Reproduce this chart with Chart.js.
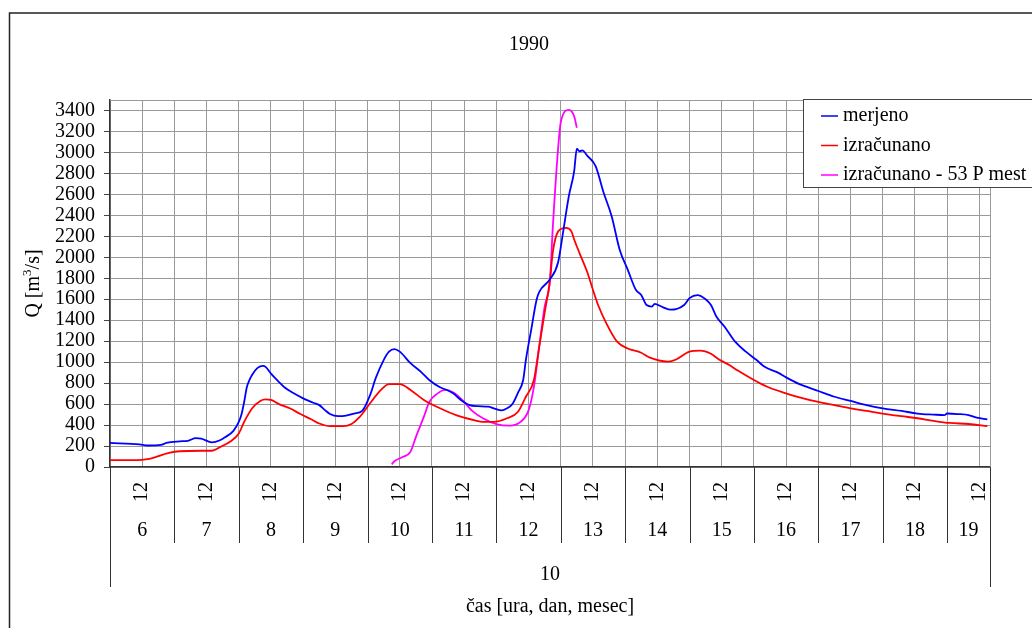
<!DOCTYPE html>
<html>
<head>
<meta charset="utf-8">
<script src="https://cdn.jsdelivr.net/npm/chart.js@4.4.1/dist/chart.umd.min.js"></script>
<style>
  body { margin: 0; background: #fff; }
  #wrap { width: 1032px; height: 628px; }
</style>
</head>
<body>
<div id="wrap"><canvas id="myChart" width="1032" height="628"></canvas></div>
<script>
// hours counted from 6.10. 00:00
const days = [6, 7, 8, 9, 10, 11, 12, 13, 14, 15, 16, 17, 18, 19];
const month = '10';
const hourLabel = '12';
const lastHour = 328;

const merjenoHours = [0, 11, 14, 19, 21, 26, 29, 32, 34, 38, 41, 43, 46, 48, 49, 50, 51, 52, 53, 55, 57, 58, 60, 63, 65, 68, 72, 76, 78, 80, 82, 85, 88, 91, 94, 97, 99, 102, 104, 106, 108, 112, 116, 119, 123, 126, 128, 131, 134, 137, 141, 143, 146, 148, 150, 152, 154, 155, 157, 159, 160, 164, 167, 169, 171, 173, 174, 175, 176, 178, 181, 184, 187, 190, 193, 196, 198, 200, 202, 203, 206, 209, 211, 214, 216, 219, 222, 224, 226, 229, 233, 237, 241, 244, 249, 252, 257, 264, 270, 276, 282, 288, 295, 301, 307, 311, 312, 316, 320, 323, 327];
const merjeno = [230, 215, 205, 210, 230, 245, 250, 275, 270, 235, 255, 285, 345, 430, 500, 620, 760, 830, 880, 945, 965, 955, 890, 810, 760, 710, 655, 610, 590, 545, 505, 485, 490, 510, 535, 690, 845, 1020, 1100, 1125, 1100, 990, 905, 830, 760, 730, 700, 635, 590, 580, 575, 560, 540, 560, 600, 705, 830, 1020, 1310, 1595, 1670, 1790, 1950, 2260, 2580, 2820, 3035, 3010, 3020, 2965, 2870, 2615, 2390, 2070, 1880, 1690, 1640, 1545, 1530, 1555, 1525, 1500, 1505, 1545, 1610, 1640, 1600, 1545, 1435, 1340, 1195, 1100, 1020, 955, 900, 855, 790, 725, 670, 630, 590, 560, 535, 510, 500, 495, 510, 505, 495, 470, 455];

const izracunanoHours = [0, 10, 14, 17, 20, 22, 26, 34, 38, 41, 45, 48, 50, 53, 56, 58, 60, 63, 67, 71, 75, 78, 82, 87, 90, 93, 97, 101, 104, 108, 112, 117, 123, 129, 136, 139, 143, 148, 152, 155, 158, 160, 162, 164, 165, 167, 170, 172, 173, 175, 178, 180, 182, 185, 189, 193, 198, 201, 208, 211, 216, 220, 224, 227, 231, 234, 240, 245, 251, 257, 264, 270, 276, 282, 288, 295, 301, 307, 313, 320, 327];
const izracunano = [65, 65, 75, 95, 120, 135, 150, 155, 155, 190, 245, 320, 430, 560, 630, 645, 640, 600, 560, 505, 455, 415, 390, 390, 410, 475, 610, 735, 790, 790, 735, 640, 560, 495, 445, 430, 430, 465, 525, 670, 830, 1150, 1470, 1785, 2040, 2245, 2280, 2245, 2170, 2040, 1850, 1690, 1540, 1370, 1195, 1130, 1090, 1045, 1005, 1025, 1100, 1110, 1080, 1025, 970, 920, 830, 765, 710, 665, 620, 590, 560, 535, 510, 485, 465, 440, 420, 410, 390];

const mest53Hours = [105, 106, 109, 112, 114, 117, 119, 122, 125, 128, 132, 135, 139, 144, 149, 153, 156, 158, 160, 162, 164, 165, 167, 168, 171, 173, 174];
const mest53 = [25, 55, 95, 145, 285, 480, 620, 700, 735, 710, 620, 535, 465, 410, 395, 430, 540, 765, 1150, 1530, 1785, 2265, 3030, 3285, 3405, 3345, 3235];

const FONT = '"Liberation Serif", "Times New Roman", serif';

function pairs(hours, values) {
    return hours.map((h, i) => ({ x: h, y: values[i] }));
}

const legendItems = [
    { text: 'merjeno', color: '#0000ff' },
    { text: 'izračunano', color: '#ff0000' },
    { text: 'izračunano - 53 P mest', color: '#ff00ff' },
];

// frame, titles, the three-level time axis and the legend
const chrome = {
    id: 'chrome',
    beforeDraw(chart) {
        const ctx = chart.ctx;
        ctx.save();
        ctx.fillStyle = '#fff';
        ctx.fillRect(0, 0, chart.width, chart.height);
        ctx.restore();
    },
    afterDraw(chart) {
        const ctx = chart.ctx;
        const area = chart.chartArea;
        const xs = chart.scales.x;
        ctx.save();

        // outer frame
        ctx.strokeStyle = '#222';
        ctx.lineWidth = 1.5;
        ctx.beginPath();
        ctx.moveTo(9.5, chart.height);
        ctx.lineTo(9.5, 13);
        ctx.lineTo(chart.width, 13);
        ctx.stroke();

        // plot top and right edge
        ctx.strokeStyle = '#999';
        ctx.lineWidth = 1;
        ctx.beginPath();
        ctx.moveTo(area.left, Math.round(area.top) + 0.5);
        ctx.lineTo(Math.round(area.right) + 0.5, Math.round(area.top) + 0.5);
        ctx.lineTo(Math.round(area.right) + 0.5, area.bottom);
        ctx.stroke();

        ctx.fillStyle = '#000';
        ctx.font = '20px ' + FONT;
        ctx.textAlign = 'center';
        ctx.textBaseline = 'middle';
        ctx.fillText('1990', 529, 45);

        // y title with superscript
        ctx.save();
        ctx.translate(32, (area.top + area.bottom) / 2);
        ctx.rotate(-Math.PI / 2);
        ctx.textBaseline = 'alphabetic';
        ctx.textAlign = 'left';
        const a = 'Q [m', b = '3', c = '/s]';
        ctx.font = '20px ' + FONT;
        const wa = ctx.measureText(a).width, wc = ctx.measureText(c).width;
        ctx.font = '13px ' + FONT;
        const wb = ctx.measureText(b).width;
        let x0 = -(wa + wb + wc) / 2;
        ctx.font = '20px ' + FONT;
        ctx.fillText(a, x0, 7);
        ctx.font = '13px ' + FONT;
        ctx.fillText(b, x0 + wa, -1);
        ctx.font = '20px ' + FONT;
        ctx.fillText(c, x0 + wa + wb, 7);
        ctx.restore();

        // time axis: hour, day, month
        const bottom = Math.round(area.bottom);
        ctx.strokeStyle = '#333';
        ctx.lineWidth = 1;
        days.forEach((d, i) => {
            const start = xs.getPixelForValue(i * 24);
            const end = Math.min(xs.getPixelForValue((i + 1) * 24), area.right);
            if (i > 0) {
                ctx.beginPath();
                ctx.moveTo(Math.round(start) + 0.5, bottom);
                ctx.lineTo(Math.round(start) + 0.5, 543);
                ctx.stroke();
            }
            ctx.fillText(String(d), (start + end) / 2, 531);
            const noon = xs.getPixelForValue(i * 24 + 12);
            ctx.save();
            ctx.translate(noon, 492);
            ctx.rotate(-Math.PI / 2);
            ctx.fillText(hourLabel, 0, 0);
            ctx.restore();
        });
        [area.left, area.right].forEach(px => {
            ctx.beginPath();
            ctx.moveTo(Math.round(px) + 0.5, bottom);
            ctx.lineTo(Math.round(px) + 0.5, 587);
            ctx.stroke();
        });
        ctx.fillText(month, (area.left + area.right) / 2, 575);
        ctx.fillText('čas [ura, dan, mesec]', (area.left + area.right) / 2, 607);

        // legend
        ctx.fillStyle = '#fff';
        ctx.fillRect(803, 99.5, 240, 88);
        ctx.strokeStyle = '#444';
        ctx.strokeRect(803.5, 99.5, 240, 88);
        ctx.textAlign = 'left';
        legendItems.forEach((item, i) => {
            const y = 116 + i * 29.5;
            ctx.strokeStyle = item.color;
            ctx.lineWidth = 1.5;
            ctx.beginPath();
            ctx.moveTo(821, y);
            ctx.lineTo(838, y);
            ctx.stroke();
            ctx.fillStyle = '#000';
            ctx.fillText(item.text, 843, y);
        });
        ctx.restore();
    }
};

const lineStyle = {
    borderWidth: 1.8,
    pointRadius: 0,
    fill: false,
    cubicInterpolationMode: 'monotone',
};

new Chart(document.getElementById('myChart'), {
    type: 'line',
    data: {
        datasets: [
            { label: 'merjeno', data: pairs(merjenoHours, merjeno), borderColor: '#0000ff', ...lineStyle },
            { label: 'izračunano', data: pairs(izracunanoHours, izracunano), borderColor: '#ff0000', ...lineStyle },
            { label: 'izračunano - 53 P mest', data: pairs(mest53Hours, mest53), borderColor: '#ff00ff', ...lineStyle },
        ]
    },
    options: {
        responsive: false,
        animation: false,
        layout: { padding: { left: 10, top: 100, right: 42, bottom: 0 } },
        scales: {
            x: {
                type: 'linear',
                min: 0,
                max: lastHour,
                ticks: { display: false, stepSize: 12, includeBounds: false, autoSkip: false },
                grid: { color: '#999', drawTicks: false },
                border: { color: '#333', width: 1.5 },
                afterFit: scale => { scale.height = 161; },
            },
            y: {
                min: 0,
                max: 3500,
                ticks: {
                    stepSize: 200,
                    includeBounds: false,
                    autoSkip: false,
                    color: '#000',
                    padding: 9,
                    font: { family: FONT, size: 20 },
                    callback: v => String(v),
                },
                grid: { color: '#999', tickLength: 6, tickColor: '#444' },
                border: { color: '#333', width: 1.5 },
                afterFit: scale => { scale.width = 100; },
            },
        },
        plugins: {
            legend: { display: false },
            tooltip: { enabled: false },
        }
    },
    plugins: [chrome],
});
</script>
</body>
</html>
